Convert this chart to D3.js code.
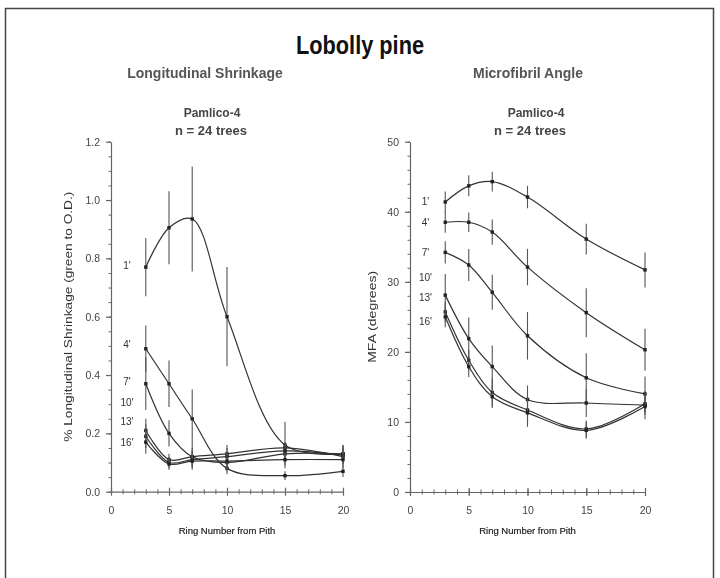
<!DOCTYPE html>
<html>
<head>
<meta charset="utf-8">
<script src="https://cdn.jsdelivr.net/npm/d3@7"></script>
<style>
  html, body { margin: 0; padding: 0; background: #fff; }
  svg { display: block; }
  text { font-family: "Liberation Sans", Arial, Helvetica, sans-serif; }
</style>
</head>
<body>
<svg id="chart" width="720" height="578"></svg>
<script>
// Sampling positions: ring number counted from the pith
const ringNumbers = [3, 5, 7, 10, 15, 20];
// Sampling heights up the stem
const heightLabels = ["1'", "4'", "7'", "10'", "13'", "16'"];

// Longitudinal shrinkage (% green to O.D.), mean per height
const shrink1  = [0.77, 0.905, 0.935, 0.60, 0.16, 0.13];
const shrink4  = [0.49, 0.37, 0.25, 0.08, 0.055, 0.07];
const shrink7  = [0.37, 0.20, 0.12, 0.10, 0.13, 0.13];
const shrink10 = [0.21, 0.11, 0.12, 0.13, 0.15, 0.12];
const shrink13 = [0.19, 0.10, 0.11, 0.12, 0.14, 0.125];
const shrink16 = [0.17, 0.095, 0.105, 0.105, 0.11, 0.11];
// Longitudinal shrinkage, half-length of the error bars
const shrinkErr1  = [0.10, 0.125, 0.18, 0.17, 0.08, 0.03];
const shrinkErr4  = [0.08, 0.08, 0.10, 0.02, 0.015, 0.02];
const shrinkErr7  = [0.09, 0.045, 0.03, 0.03, 0.03, 0.03];
const shrinkErr10 = [0.04, 0.02, 0.03, 0.03, 0.02, 0.03];
const shrinkErr13 = [0.04, 0.02, 0.03, 0.03, 0.02, 0.03];
const shrinkErr16 = [0.04, 0.02, 0.03, 0.03, 0.02, 0.03];

// Microfibril angle (degrees), mean per height
const mfa1  = [41.4, 43.7, 44.3, 42.1, 36.1, 31.7];
const mfa4  = [38.5, 38.5, 37.1, 32.1, 25.6, 20.3];
const mfa7  = [34.2, 32.4, 28.5, 22.3, 16.3, 14.0];
const mfa10 = [28.1, 21.9, 17.9, 13.2, 12.7, 12.4];
const mfa13 = [25.7, 18.8, 14.2, 11.7, 9.0, 12.6];
const mfa16 = [25.0, 17.9, 13.6, 11.3, 8.8, 12.2];
// Microfibril angle, half-length of the error bars
const mfaErr1  = [1.5, 1.5, 1.4, 1.6, 2.2, 2.5];
const mfaErr4  = [1.5, 1.4, 1.8, 2.6, 3.5, 3.0];
const mfaErr7  = [1.6, 2.3, 2.5, 3.4, 3.5, 2.5];
const mfaErr10 = [3.0, 3.0, 3.0, 2.0, 2.0, 2.0];
const mfaErr13 = [1.5, 1.5, 2.0, 2.0, 1.2, 1.2];
const mfaErr16 = [1.5, 1.5, 1.6, 2.0, 1.2, 1.2];

// Axis ticks
const ringTicks = [0, 5, 10, 15, 20];
const shrinkTicks = [0, 0.2, 0.4, 0.6, 0.8, 1.0, 1.2];
const mfaTicks = [0, 10, 20, 30, 40, 50];

const svg = d3.select("#chart");

const defs = svg.append("defs");
defs.append("filter").attr("id", "soft")
  .attr("x", "-5%").attr("y", "-5%").attr("width", "110%").attr("height", "110%")
  .append("feGaussianBlur").attr("stdDeviation", 0.45);

svg.append("rect").attr("width", 720).attr("height", 578).attr("fill", "#fff");

// frame
svg.append("rect")
  .attr("x", 5.5).attr("y", 8.5).attr("width", 708).attr("height", 620)
  .attr("fill", "none").attr("stroke", "#444").attr("stroke-width", 1.5);

// condensed bold heading
svg.append("text")
  .attr("x", 360).attr("y", 54)
  .attr("text-anchor", "middle")
  .attr("font-weight", "bold").attr("font-size", 26)
  .attr("textLength", 128).attr("lengthAdjust", "spacingAndGlyphs")
  .attr("fill", "#111")
  .text("Lobolly pine");

function zipSeries(means, errs) {
  return heightLabels.map((label, i) => ({
    label,
    points: ringNumbers.map((r, j) => ({ r, v: means[i][j], e: errs[i][j] }))
  }));
}

const panels = [
  {
    title: "Longitudinal Shrinkage",
    titleX: 205,
    siteX: 212,
    countX: 211,
    xRange: [111, 343],
    yDomain: [0, 1.2],
    yRange: [491.7, 141.7],
    yTicks: shrinkTicks,
    yMinorStep: 0.05,
    yFormat: d3.format(".1f"),
    yTitle: "% Longitudinal Shrinkage (green to O.D.)",
    yTitleX: 72,
    yTitleLen: 250,
    yTitleSize: 10.5,
    labelX: 127,
    labelNudge: [-2, -4, -2, -28, -15, 0],
    series: zipSeries(
      [shrink1, shrink4, shrink7, shrink10, shrink13, shrink16],
      [shrinkErr1, shrinkErr4, shrinkErr7, shrinkErr10, shrinkErr13, shrinkErr16])
  },
  {
    title: "Microfibril Angle",
    titleX: 528,
    siteX: 536,
    countX: 530,
    xRange: [410, 645],
    yDomain: [0, 50],
    yRange: [492, 141.7],
    yTicks: mfaTicks,
    yMinorStep: 2,
    yFormat: d3.format("d"),
    yTitle: "MFA (degrees)",
    yTitleX: 376,
    yTitleLen: 92,
    yTitleSize: 11,
    labelX: 425.5,
    labelNudge: [0, 0, 0, -18, -14, 5],
    series: zipSeries(
      [mfa1, mfa4, mfa7, mfa10, mfa13, mfa16],
      [mfaErr1, mfaErr4, mfaErr7, mfaErr10, mfaErr13, mfaErr16])
  }
];

const ink = "#333";
const axisInk = "#666";
const labelInk = "#444";

panels.forEach(cfg => {
  const g = svg.append("g").attr("filter", "url(#soft)");
  const x = d3.scaleLinear().domain([0, 20]).range(cfg.xRange);
  const y = d3.scaleLinear().domain(cfg.yDomain).range(cfg.yRange);
  const midX = (cfg.xRange[0] + cfg.xRange[1]) / 2;

  // headings
  g.append("text").attr("x", cfg.titleX).attr("y", 78)
    .attr("text-anchor", "middle").attr("font-weight", "bold")
    .attr("font-size", 14).attr("fill", "#555").text(cfg.title);
  g.append("text").attr("x", cfg.siteX).attr("y", 117)
    .attr("text-anchor", "middle").attr("font-weight", "bold")
    .attr("font-size", 12).attr("fill", "#444").text("Pamlico-4");
  g.append("text").attr("x", cfg.countX).attr("y", 135)
    .attr("text-anchor", "middle").attr("font-weight", "bold")
    .attr("font-size", 13).attr("fill", "#444").text("n = 24 trees");

  // y axis: major and minor ticks
  const yMinor = d3.range(cfg.yDomain[0], cfg.yDomain[1] + 1e-9, cfg.yMinorStep);
  const yMinorAxis = g.append("g").attr("transform", `translate(${cfg.xRange[0]},0)`)
    .call(d3.axisLeft(y).tickValues(yMinor).tickSize(2.5).tickFormat(""));
  yMinorAxis.select(".domain").remove();
  yMinorAxis.selectAll("line").attr("stroke", axisInk);

  const yAxis = g.append("g").attr("transform", `translate(${cfg.xRange[0]},0)`)
    .call(d3.axisLeft(y).tickValues(cfg.yTicks).tickSize(5).tickSizeOuter(0)
      .tickPadding(6).tickFormat(cfg.yFormat));
  yAxis.select(".domain").attr("stroke", axisInk).attr("stroke-width", 1.2);
  yAxis.selectAll("line").attr("stroke", axisInk).attr("stroke-width", 1.2);
  yAxis.selectAll("text").attr("font-size", 10.5).attr("fill", labelInk)
    .style("font-family", "'Liberation Sans', Arial, sans-serif");

  // x axis: ticks cross the axis line
  const xMinorAxis = g.append("g").attr("transform", `translate(0,${cfg.yRange[0]})`)
    .call(d3.axisBottom(x).tickValues(d3.range(0, 21)).tickSize(2.5).tickFormat(""));
  xMinorAxis.select(".domain").remove();
  xMinorAxis.selectAll("line").attr("y1", -2.5).attr("stroke", axisInk);

  const xAxis = g.append("g").attr("transform", `translate(0,${cfg.yRange[0]})`)
    .call(d3.axisBottom(x).tickValues(ringTicks).tickSize(4).tickSizeOuter(0)
      .tickPadding(11));
  xAxis.select(".domain").attr("stroke", axisInk).attr("stroke-width", 1.2);
  xAxis.selectAll("line").attr("y1", -4).attr("stroke", axisInk).attr("stroke-width", 1.2);
  xAxis.selectAll("text").attr("font-size", 10.5).attr("fill", labelInk)
    .style("font-family", "'Liberation Sans', Arial, sans-serif");

  // axis titles
  g.append("text").attr("x", midX).attr("y", 534)
    .attr("text-anchor", "middle").attr("font-size", 9.5).attr("fill", "#222")
    .attr("stroke", "#222").attr("stroke-width", 0.2)
    .text("Ring Number from Pith");
  const yMid = (cfg.yRange[0] + cfg.yRange[1]) / 2;
  g.append("text")
    .attr("transform", `translate(${cfg.yTitleX},${yMid}) rotate(-90)`)
    .attr("text-anchor", "middle").attr("font-size", cfg.yTitleSize).attr("fill", "#333")
    .attr("textLength", cfg.yTitleLen).attr("lengthAdjust", "spacingAndGlyphs")
    .text(cfg.yTitle);

  const line = d3.line()
    .x(d => x(d.r)).y(d => y(d.v))
    .curve(d3.curveCatmullRom.alpha(0.5));

  cfg.series.forEach((s, i) => {
    const sg = g.append("g");
    // error bars
    sg.selectAll("line.err").data(s.points).join("line")
      .attr("class", "err")
      .attr("x1", d => x(d.r)).attr("x2", d => x(d.r))
      .attr("y1", d => y(d.v - d.e)).attr("y2", d => y(d.v + d.e))
      .attr("stroke", "#555").attr("stroke-width", 1.1);
    // mean curve
    sg.append("path").datum(s.points)
      .attr("d", line).attr("fill", "none")
      .attr("stroke", ink).attr("stroke-width", 1.2);
    // markers
    sg.selectAll("rect.pt").data(s.points).join("rect")
      .attr("class", "pt")
      .attr("x", d => x(d.r) - 1.7).attr("y", d => y(d.v) - 1.7)
      .attr("width", 3.4).attr("height", 3.4).attr("fill", "#222");
    // height label beside the first ring
    g.append("text")
      .attr("x", cfg.labelX)
      .attr("y", y(s.points[0].v) + cfg.labelNudge[i])
      .attr("dy", "0.35em")
      .attr("text-anchor", "middle").attr("font-size", 10).attr("fill", "#333")
      .text(s.label);
  });
});
</script>
</body>
</html>
